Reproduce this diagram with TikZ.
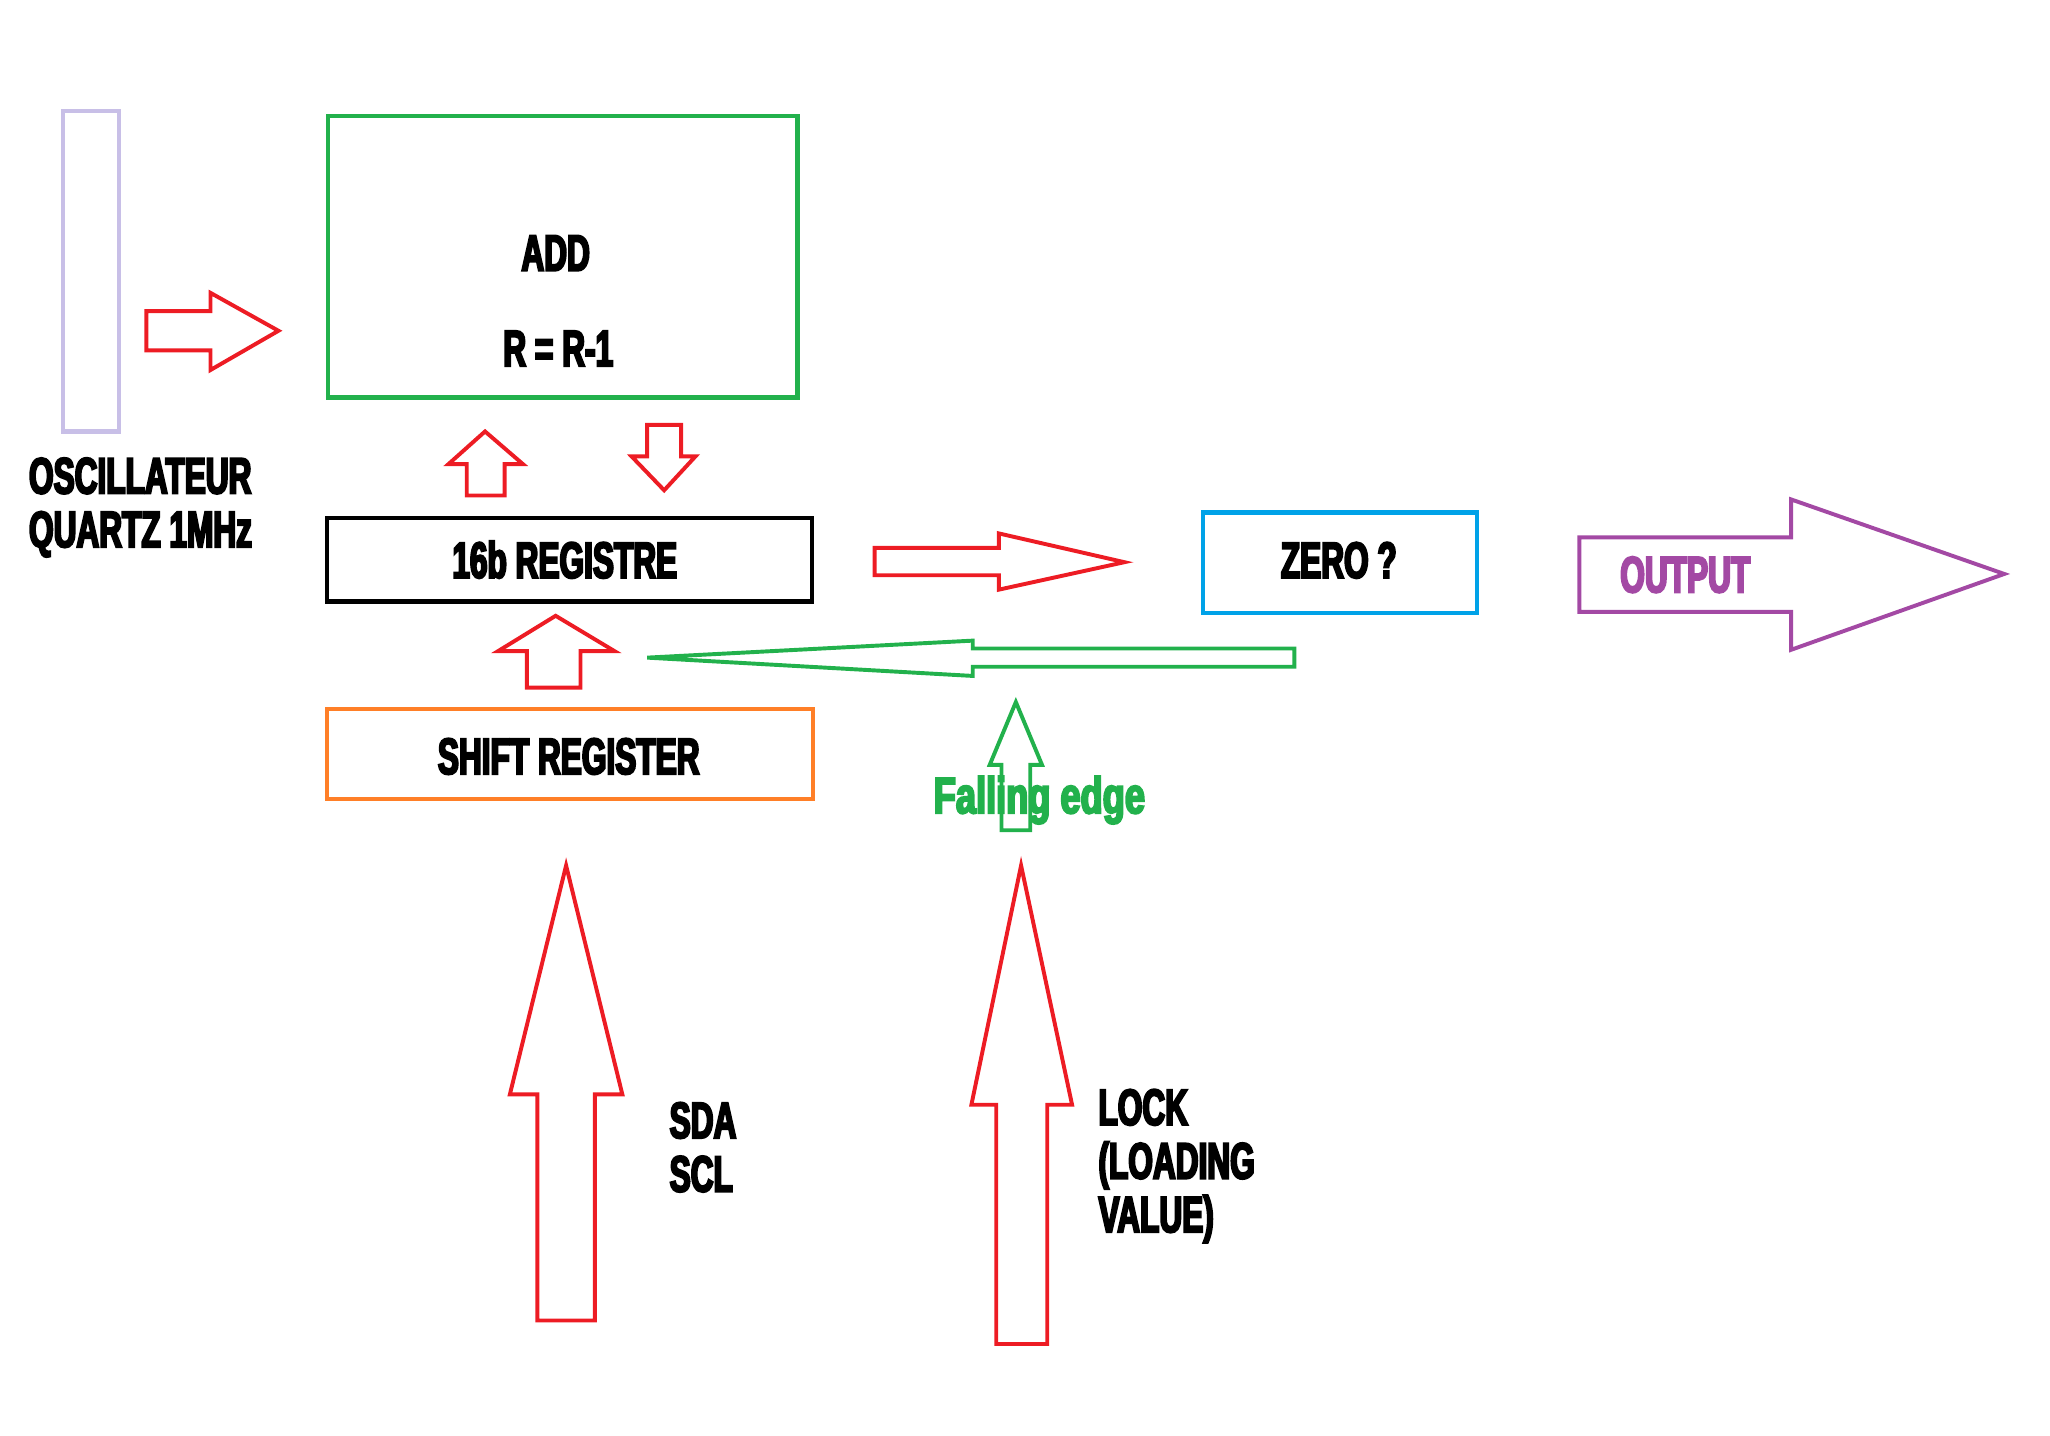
\documentclass[tikz,border=0pt]{standalone}
\usepackage{fontspec}
\newfontfamily\impact[FakeStretch=0.62,FakeBold=4]{Liberation Sans Bold}
\newfontfamily\impactwide[FakeStretch=0.71,FakeBold=4]{Liberation Sans Bold}
\definecolor{pred}{HTML}{ED1C24}
\definecolor{pgreen}{HTML}{22B14C}
\definecolor{pblue}{HTML}{00A2E8}
\definecolor{porange}{HTML}{FF7F27}
\definecolor{ppurple}{HTML}{A349A4}
\definecolor{plav}{HTML}{C8BFE7}
\begin{document}
\begin{tikzpicture}[x=1pt,y=-1pt,
  box/.style={draw, line width=3.2pt, minimum width=#1, inner sep=0pt},
  lbl/.style={font=\impact\fontsize{39}{41}\selectfont, inner sep=0pt},
  blk/.style={line width=3pt, line join=miter}]
\useasboundingbox (0,0) rectangle (1568,1098);
% boxes
\node[box=43pt, draw=plav, minimum height=245pt] (osc) at (69.5,207.5) {};
\node[box=359pt, draw=pgreen, minimum height=215pt] (add) at (430.5,196.5) {};
\node[box=371pt, draw=black, minimum height=64pt] (reg) at (435.5,428) {};
\node[box=210pt, draw=pblue, minimum height=77pt] (zero) at (1025,430.5) {};
\node[box=372pt, draw=porange, minimum height=69pt] (shift) at (436,576.5) {};
% texts
\node[lbl, anchor=north west, align=left] (osctxt) at (22,350) {OSCILLATEUR\\QUARTZ 1MHz};
\node[lbl, anchor=base] (addtxt) at (425,207) {ADD};
\node[lbl, anchor=base] (rtxt) at (427,280) {R = R-1};
\node[lbl, anchor=base] (regtxt) at (432,442) {16b REGISTRE};
\node[lbl, anchor=base] (zerotxt) at (1024,442) {ZERO ?};
\node[lbl, anchor=base, text=ppurple] (outtxt) at (1289,453) {OUTPUT};
\node[lbl, anchor=base] (shifttxt) at (435,592) {SHIFT REGISTER};
\node[lbl, anchor=base, text=pgreen, font=\impactwide\fontsize{39}{41}\selectfont] (falltxt) at (795,622) {Falling edge};
\node[lbl, anchor=north west, align=left] (sdatxt) at (512,843) {SDA\\SCL};
\node[lbl, anchor=north west, align=left] (locktxt) at (840,833) {LOCK\\(LOADING\\VALUE)};
% block arrows
\draw[blk, pred] (112,238) -- (161,238) -- (161,224) -- (213,253) -- (161,283) -- (161,268) -- (112,268) -- cycle;
\draw[blk, pred] (357,379) -- (357,355) -- (343,355) -- (371,330) -- (400,355) -- (386,355) -- (386,379) -- cycle;
\draw[blk, pred] (495,325) -- (521,325) -- (521,349) -- (532,349) -- (508,375) -- (483,349) -- (495,349) -- cycle;
\draw[blk, pred] (669,419) -- (764,419) -- (764,408) -- (860,430) -- (764,451) -- (764,440) -- (669,440) -- cycle;
\draw[blk, ppurple] (1208,411) -- (1370,411) -- (1370,382) -- (1533,439) -- (1370,497) -- (1370,468) -- (1208,468) -- cycle;
\draw[blk, pgreen] (990,496) -- (744,496) -- (744,490) -- (495,503) -- (744,517) -- (744,510) -- (990,510) -- cycle;
\draw[blk, pred] (403,526) -- (403,498) -- (381,498) -- (425,471) -- (470,498) -- (444,498) -- (444,526) -- cycle;
\draw[blk, pgreen] (766,635) -- (766,585) -- (757,585) -- (777,537) -- (797,585) -- (788,585) -- (788,635) -- cycle;
\draw[blk, pred] (411,1010) -- (411,837) -- (390,837) -- (433,662) -- (476,837) -- (455,837) -- (455,1010) -- cycle;
\draw[blk, pred] (762,1028) -- (762,845) -- (743,845) -- (781,662) -- (820,845) -- (801,845) -- (801,1028) -- cycle;
\end{tikzpicture}
\end{document}
